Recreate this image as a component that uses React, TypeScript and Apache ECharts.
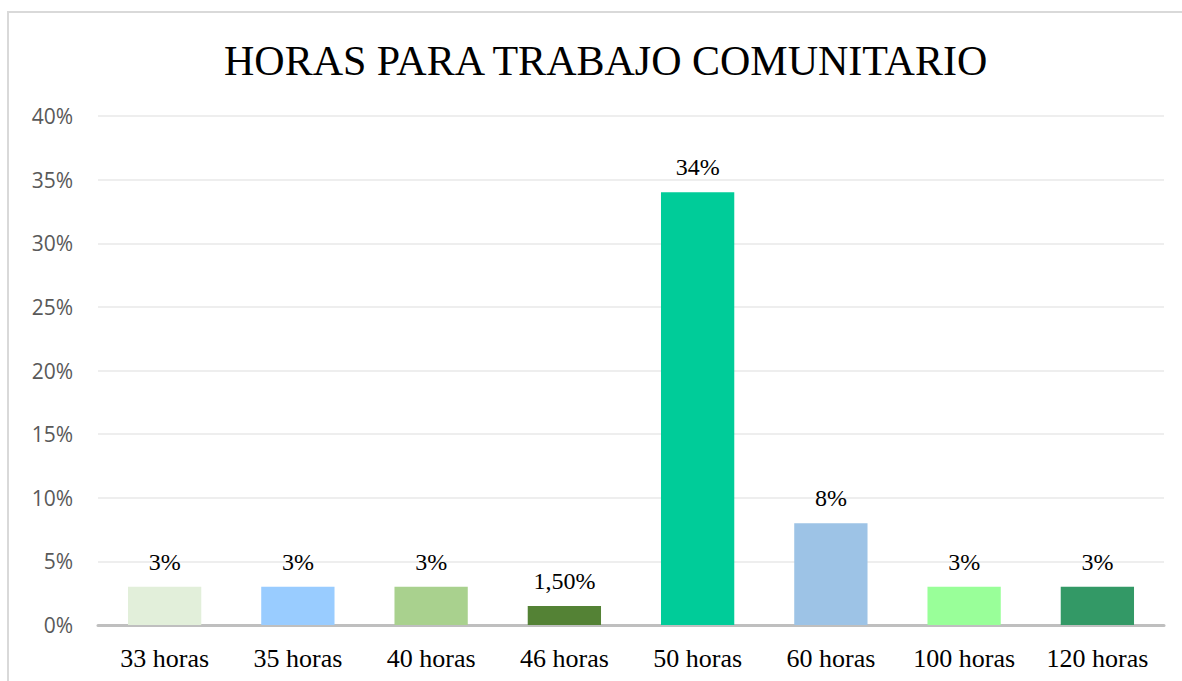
import React, { useEffect, useRef } from "react";
import * as echarts from "echarts";

const categories = ["33 horas", "35 horas", "40 horas", "46 horas", "50 horas", "60 horas", "100 horas", "120 horas"];
const values = [0.03, 0.03, 0.03, 0.015, 0.34, 0.08, 0.03, 0.03];
const valueLabels = ["3%", "3%", "3%", "1,50%", "34%", "8%", "3%", "3%"];
const barColors = ["#e2efda", "#99ccff", "#a9d18e", "#548235", "#00cc99", "#9dc3e6", "#99ff99", "#339966"];
const yTicks = [0, 0.05, 0.1, 0.15, 0.2, 0.25, 0.3, 0.35, 0.4];

export default function App() {
  const ref = useRef<HTMLDivElement>(null);
  useEffect(() => {
    if (!ref.current) return;
    const chart = echarts.init(ref.current, undefined, { renderer: "svg" });
    chart.setOption({
      animation: false,
      backgroundColor: "#ffffff",
      title: {
        text: "HORAS PARA TRABAJO COMUNITARIO",
        left: 219,
        top: 35,
        textStyle: { fontFamily: "Liberation Serif", fontSize: 42, fontWeight: "normal", color: "#000000" },
      },
      graphic: [
        {
          type: "rect",
          shape: { x: 8, y: 12, width: 1300, height: 800 },
          style: { fill: "none", stroke: "#d9d9d9", lineWidth: 2 },
          silent: true,
        },
      ],
      grid: { left: 98, right: 18, top: 116, bottom: 56 },
      xAxis: {
        type: "category",
        data: categories,
        axisLine: { lineStyle: { color: "#bfbfbf", width: 3 } },
        axisTick: { show: false },
        axisLabel: { fontFamily: "Liberation Serif", fontSize: 26, color: "#000000", margin: 20 },
      },
      yAxis: {
        type: "value",
        min: yTicks[0],
        max: yTicks[yTicks.length - 1],
        interval: 0.05,
        axisLine: { show: false },
        axisTick: { show: false },
        splitLine: { lineStyle: { color: "#eeeeee", width: 2 } },
        axisLabel: {
          fontFamily: "Open Sans",
          fontSize: 21,
          color: "#595959",
          margin: 25,
          formatter: (v: number) => Math.round(v * 100) + "%",
        },
      },
      series: [
        {
          type: "bar",
          barWidth: "55%",
          data: values.map((v, i) => ({ value: v, itemStyle: { color: barColors[i] } })),
          label: {
            show: true,
            position: "top",
            distance: 13,
            fontFamily: "Liberation Serif",
            fontSize: 24,
            color: "#000000",
            formatter: (p: any) => valueLabels[p.dataIndex],
          },
        },
      ],
    });
    return () => chart.dispose();
  }, []);
  return <div ref={ref} style={{ position: "fixed", left: 0, top: 0, width: 1182, height: 681 }} />;
}
